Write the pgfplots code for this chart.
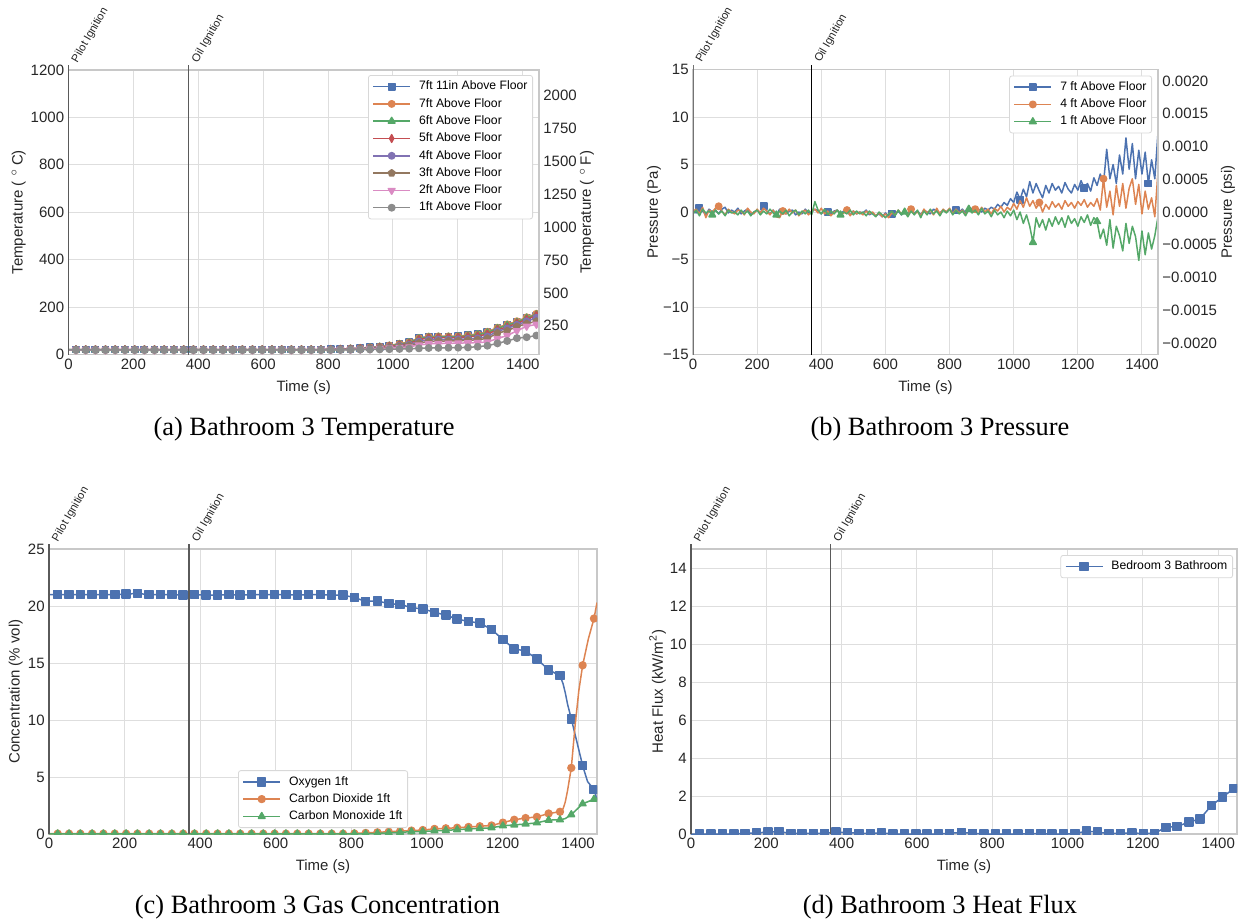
\documentclass[border=0pt]{standalone}
\usepackage{graphicx}
\usepackage{pgfplots}
\pgfplotsset{compat=1.18}
\usepackage{pgfplotstable}
\usetikzlibrary{plotmarks,calc}
\usepackage{fontspec}
\setmainfont{Liberation Sans}
\newfontfamily\capfont{Liberation Serif}

\definecolor{c0}{HTML}{4C72B0}
\definecolor{c1}{HTML}{DD8452}
\definecolor{c2}{HTML}{55A868}
\definecolor{c3}{HTML}{C44E52}
\definecolor{c4}{HTML}{8172B3}
\definecolor{c5}{HTML}{937860}
\definecolor{c6}{HTML}{DA8BC3}
\definecolor{c7}{HTML}{8C8C8C}
\definecolor{gridc}{HTML}{DEDEDE}
\definecolor{framec}{HTML}{C8C8C8}
\definecolor{legc}{HTML}{D8D8D8}
\definecolor{txt}{HTML}{262626}
\definecolor{annc}{HTML}{5A5A5A}

\pgfplotstableread{
t a b c d e f g h
0 21 21 20.5 20 20 19.5 19.5 19
23 21 21 20.5 20 20 19.5 19.5 19
53 21 21 20.5 20 20 19.5 19.5 19
83 21 21 20.5 20 20 19.5 19.5 19
114 21 21 20.5 20 20 19.5 19.5 19
144 21 21 20.5 20 20 19.5 19.5 19
174 21 21 20.5 20 20 19.5 19.5 19
204 21 21 20.5 20 20 19.5 19.5 19
234 21 21 20.5 20 20 19.5 19.5 19
265 21 21 20.5 20 20 19.5 19.5 19
295 21 21 20.5 20 20 19.5 19.5 19
325 21 21 20.5 20 20 19.5 19.5 19
355 21 21 20.5 20 20 19.5 19.5 19
385 21 21 20.5 20 20 19.5 19.5 19
416 21 21 20.5 20 20 19.5 19.5 19
446 21 21 20.5 20 20 19.5 19.5 19
476 21 21 20.5 20 20 19.5 19.5 19
506 21 21 20.5 20 20 19.5 19.5 19
536 21 21 20.5 20 20 19.5 19.5 19
567 21 21 20.5 20 20 19.5 19.5 19
597 21 21 20.5 20 20 19.5 19.5 19
627 21 21 20.5 20 20 19.5 19.5 19
657 21 21 20.5 20 20 19.5 19.5 19
687 21 21 20.5 20 20 19.5 19.5 19
718 21 21 20.5 20 20 19.5 19.5 19
748 21 21 20.5 20 20 19.5 19.5 19
778 21 21 20.5 20 20 19.5 19.5 19
808 22 22 21.5 21 21 20.5 20 19.5
838 23 23 22 22 21.5 21 20.5 19.5
869 25 25 24 23 22.5 22 21 20
899 27 27 26 25 24 23 22 20.5
929 30 30 29 27 26 25 23 21
959 33 33 32 30 28 27 25 21.5
989 38 38 36 34 31 29 27 22.5
1020 45 45 43 40 36 33 29 23.5
1050 52 52 50 46 41 37 32 24.5
1080 70 69 67 63 55 48 40 26
1110 76 75 73 70 62 55 45 27.5
1140 76 76 74 71 63 56 46 28
1171 76 76 74 71 63 57 47 28.5
1201 77 77 75 72 64 58 48 29
1231 82 81 79 75 66 60 49 30
1261 86 85 83 78 68 62 50 33
1291 95 96 92 86 76 68 53 37
1322 112 113 110 105 98 90 67 47
1352 125 127 124 116 110 100 80 57
1382 137 140 136 132 125 118 100 69
1412 153 157 154 148 140 130 119 73
1442 162 172 168 165 155 140 127 80
1450 165 176 171 168 158 143 129 82
}\tabT

\pgfplotstableread{
t p7 p4 p1
0 0.2 0.1 -0.2
10 -0.1 0.3 0.2
20 0.4 -0.2 -0.4
30 0.1 0.5 0.3
40 -0.3 -0.6 -0.1
50 0.3 0.2 0.1
60 0.0 0.0 -0.3
70 0.2 0.4 0.2
80 -0.2 0.6 -0.2
90 0.3 0.1 0.1
100 0.5 -0.3 -0.4
110 -0.1 0.3 0.2
120 0.2 0.0 -0.1
130 0.0 -0.2 0.0
140 0.4 0.2 -0.3
150 -0.2 0.1 0.2
160 0.1 -0.3 -0.2
170 0.3 0.4 0.1
180 -0.3 0.0 -0.4
190 0.0 -0.2 0.0
200 0.2 0.3 0.2
210 -0.1 -0.1 -0.3
220 0.6 0.4 0.1
230 0.1 0.1 -0.2
240 -0.2 -0.3 0.3
250 0.2 0.2 -0.1
260 -0.4 -0.5 -0.3
270 0.3 -0.6 0.1
280 0.0 0.1 -0.2
290 -0.2 -0.2 0.2
300 0.1 0.3 -0.4
310 0.2 -0.1 0.0
320 -0.3 0.2 0.2
330 0.0 -0.4 -0.3
340 -0.2 0.0 0.1
350 0.3 0.2 -0.2
360 -0.1 -0.3 0.2
370 0.0 0.1 -0.3
380 0.3 0.3 1.1
390 0.1 -0.1 0.2
400 -0.2 0.4 -0.2
410 0.2 -0.2 0.3
420 0.0 0.1 -0.3
430 -0.3 -0.4 0.1
440 0.1 0.0 -0.2
450 0.2 0.2 0.2
460 -0.2 -0.3 -0.3
470 0.1 -0.1 0.0
480 0.0 0.2 -0.2
490 -0.3 -0.4 0.2
500 0.1 0.1 -0.3
510 -0.2 -0.2 0.1
520 0.0 0.0 -0.2
530 -0.1 -0.3 0.0
540 0.2 0.1 -0.4
550 -0.3 -0.2 0.1
560 -0.1 0.0 -0.2
570 -0.4 -0.4 -0.5
580 -0.2 -0.1 0.0
590 -0.5 -0.5 -0.3
600 -0.1 -0.2 -0.6
610 -0.4 -0.6 -0.2
620 -0.2 -0.1 0.1
630 -0.3 -0.3 -0.4
640 0.1 0.2 0.2
650 -0.3 -0.2 -0.3
660 0.0 0.1 0.0
670 -0.2 -0.4 -0.5
680 0.2 0.3 0.1
690 -0.1 -0.2 -0.3
700 0.1 0.0 0.2
710 -0.3 -0.4 -0.6
720 0.2 0.3 0.1
730 0.0 -0.1 -0.3
740 -0.2 0.2 0.3
750 0.3 -0.3 -0.2
760 0.1 0.4 0.1
770 -0.1 -0.2 -0.4
780 0.2 0.3 0.2
790 0.0 0.0 -0.1
800 0.3 0.4 0.3
810 -0.1 -0.2 -0.3
820 0.2 0.3 0.2
830 0.0 -0.1 -0.2
840 0.3 0.2 0.1
850 -0.1 -0.3 -0.4
860 0.2 0.4 0.3
870 0.4 0.0 -0.1
880 0.1 0.3 0.2
890 0.3 -0.1 -0.3
900 0.0 0.5 0.4
910 0.4 0.0 -0.2
920 0.2 0.3 0.1
930 0.5 -0.2 -0.5
940 0.3 0.4 0.2
950 0.8 0.1 -0.3
960 0.5 0.6 0.0
970 1.0 0.0 -0.6
980 0.7 0.5 0.1
990 1.4 0.2 -0.4
1000 1.0 0.9 0.2
1010 2.1 0.3 -0.8
1020 1.3 1.2 0.0
1030 2.4 0.5 -1.2
1040 1.6 1.5 -0.3
1050 3.2 0.6 -1.5
1060 2.0 1.2 -3.2
1070 3.0 0.4 -0.6
1080 2.2 1.0 -1.6
1090 1.5 0.0 -0.8
1100 2.8 0.8 -1.9
1110 2.0 0.3 -0.7
1120 3.0 1.1 -1.5
1130 2.3 0.5 -0.5
1140 2.7 0.9 -1.3
1150 2.0 0.3 -0.6
1160 3.1 1.2 -1.6
1170 2.4 0.6 -0.4
1180 2.0 1.0 -1.2
1190 2.9 0.4 -0.7
1200 2.3 1.1 -1.5
1210 3.3 0.7 -0.5
1220 2.5 1.3 -1.1
1230 3.0 0.5 -0.3
1240 2.2 1.0 -1.4
1250 3.6 0.6 -0.6
1260 2.8 1.4 -1.0
1270 4.0 0.2 -2.8
1280 3.0 3.5 -1.8
1290 6.6 0.5 -3.5
1300 3.5 2.2 -0.8
1310 5.0 -0.3 -3.8
1320 3.0 2.8 -1.5
1330 6.0 0.6 -2.5
1340 4.0 3.0 -4.1
1350 7.8 0.4 -1.2
1360 4.5 2.5 -3.3
1370 7.2 3.5 -1.5
1380 3.5 0.8 -2.6
1390 6.5 2.9 -5.1
1400 4.0 -0.2 -2.0
1410 6.3 2.2 -4.5
1420 3.0 0.3 -2.2
1430 5.5 1.5 -3.9
1440 3.5 -0.5 -2.5
1450 8.4 4.3 -0.5
}\tabP

\pgfplotstableread{
t o2 co2 co
23 21.0 0.03 0.02
53 21.0 0.03 0.02
83 21.0 0.03 0.02
114 21.0 0.03 0.02
144 21.0 0.03 0.02
174 21.0 0.03 0.02
204 21.05 0.03 0.02
234 21.1 0.03 0.02
265 21.0 0.03 0.02
295 21.0 0.03 0.02
325 21.0 0.03 0.02
355 20.95 0.03 0.02
385 21.0 0.03 0.02
416 20.95 0.03 0.02
446 20.95 0.03 0.02
476 21.0 0.03 0.02
506 20.95 0.03 0.02
536 21.0 0.03 0.02
567 21.0 0.03 0.02
597 21.0 0.03 0.02
627 21.0 0.03 0.02
657 20.95 0.03 0.02
687 21.0 0.03 0.02
718 21.0 0.03 0.02
748 20.95 0.03 0.02
778 20.95 0.03 0.02
808 20.75 0.05 0.02
838 20.4 0.1 0.02
869 20.45 0.15 0.05
899 20.2 0.2 0.1
929 20.15 0.25 0.15
959 19.85 0.3 0.2
989 19.75 0.35 0.22
1020 19.45 0.45 0.28
1050 19.2 0.5 0.32
1080 18.85 0.55 0.38
1110 18.65 0.62 0.45
1140 18.5 0.68 0.48
1171 17.95 0.75 0.55
1201 17.05 1.0 0.72
1231 16.25 1.25 0.8
1261 16.05 1.4 0.88
1291 15.35 1.5 0.98
1322 14.4 1.8 1.22
1352 13.9 1.95 1.25
1382 10.1 5.8 1.7
1412 6.0 14.8 2.65
1442 3.9 18.9 3.05
}\tabC

\pgfplotstableread{
t hf
0 0.0
23 0.0
53 0.0
83 0.0
114 0.0
144 0.03
174 0.06
204 0.1
234 0.12
265 0.04
295 0.04
325 0.02
355 0.04
385 0.1
416 0.08
446 0.04
476 0.04
506 0.06
536 0.0
567 0.0
597 0.0
627 0.0
657 0.0
687 0.04
718 0.08
748 0.04
778 0.0
808 0.0
838 0.0
869 0.0
899 0.02
929 0.02
959 0.0
989 0.0
1020 0.02
1050 0.15
1080 0.1
1110 0.02
1140 0.04
1171 0.06
1201 0.02
1231 0.04
1261 0.35
1291 0.4
1322 0.62
1352 0.8
1382 1.5
1412 1.95
1442 2.4
1450 2.5
}\tabH

\tikzset{annnode/.style={anchor=south west, inner sep=0pt, xshift=0.6pt,
  font=\fontsize{5.6}{6}\selectfont, text=txt}}
\newcommand{\annt}[1]{\rotatebox{60}{#1}}
% #1 axis name, #2 fraction of width, #3 colour, #4 width, #5 text
\newcommand{\annot}[5]{%
  \draw[#3, line width=#4] ($(#1.south west)!#2!(#1.south east)$) --
    ($(#1.north west)!#2!(#1.north east)$) -- ++(0pt,2.5pt)
    node[annnode] {\annt{#5}};}

\pgfplotsset{
  sbbase/.style={
    scale only axis, anchor=south west,
    xmin=0, xmax=1450,
    axis line style={draw=framec, line width=0.65pt},
    major tick length=0pt, tick style={draw=none},
    tick label style={font=\fontsize{7.5}{9}\selectfont, text=txt},
    label style={font=\fontsize{7.5}{9}\selectfont, text=txt},
    xticklabel style={inner sep=2pt},
    yticklabel style={inner sep=2pt},
    /pgf/number format/assume math mode=true,
    /pgf/number format/1000 sep={},
    scaled ticks=false,
    clip marker paths=true,
  },
  sb/.style={sbbase,
    grid=major, major grid style={draw=gridc, line width=0.5pt},
    xtick={0,200,...,1400}, xlabel={Time (s)},
    legend cell align=left,
    legend style={font=\fontsize{6.1}{7}\selectfont, draw=legc, line width=0.4pt,
      fill=white, rounded corners=1.2pt, inner xsep=2pt, inner ysep=1.8pt,
      row sep=1.05pt,
      nodes={inner xsep=0.6pt, inner ysep=0.8pt, text height=4.6pt, text depth=1.4pt},
      /tikz/every odd column/.append style={column sep=3.5pt}},
    legend image code/.code={\draw[mark repeat=2,mark phase=2]
      plot coordinates {(0pt,0pt) (9.25pt,0pt) (18.5pt,0pt)};},
    every axis plot/.append style={line width=0.75pt, line join=round},
  },
  sbright/.style={sbbase, axis x line=none, axis y line*=right},
}

\newcommand{\ser}[5]{%
  \addplot[#3, no marks, forget plot] table[x=t,y=#2]{#1};
  \addplot[#3, only marks, #4, restrict x to domain=10:1445, forget plot] table[x=t,y=#2]{#1};
  \addlegendimage{#3, #4}
  \addlegendentry{#5}
}

\begin{document}
\begin{tikzpicture}
\useasboundingbox (0pt,0pt) rectangle (620.5pt,-460pt);

% (a)
\begin{axis}[sb, name=axa, at={(34.25pt,-177.25pt)}, width=235.25pt, height=142.25pt,
  ymin=0, ymax=1200, ytick={0,200,...,1200},
  ylabel={Temperature ( $^\circ$\,C)}, ylabel shift=-3pt,
  legend style={at={(1,1)}, anchor=north east, xshift=-3pt, yshift=-2.5pt}]
\ser{\tabT}{a}{c0}{mark=square*, mark size=1.6pt}{7ft 11in Above Floor}
\ser{\tabT}{b}{c1}{mark=*, mark size=1.6pt}{7ft Above Floor}
\ser{\tabT}{c}{c2}{mark=triangle*, mark size=1.9pt}{6ft Above Floor}
\ser{\tabT}{d}{c3}{mark=diamond*, mark size=1.9pt, mark options={xscale=0.7}}{5ft Above Floor}
\ser{\tabT}{e}{c4}{mark=*, mark size=1.6pt}{4ft Above Floor}
\ser{\tabT}{f}{c5}{mark=pentagon*, mark size=1.7pt}{3ft Above Floor}
\ser{\tabT}{g}{c6}{mark=triangle*, mark size=1.9pt, mark options={rotate=180}}{2ft Above Floor}
\ser{\tabT}{h}{c7}{mark=*, mark size=1.6pt}{1ft Above Floor}
\end{axis}
\begin{axis}[sbright, at={(34.25pt,-177.25pt)}, width=235.25pt, height=142.25pt,
  ymin=32, ymax=2192, ytick={250,500,...,2000},
  ylabel={Temperature ( $^\circ$\,F)}, ylabel shift=-4pt]
\addplot[draw=none] coordinates {(0,32)};
\end{axis}
\annot{axa}{0}{annc}{0.75pt}{Pilot Ignition}
\annot{axa}{0.25517}{annc}{0.75pt}{Oil Ignition}

% (b)
\begin{axis}[sb, name=axb, at={(346.5pt,-177.25pt)}, width=232.5pt, height=142.5pt,
  ymin=-15, ymax=15, ytick={-15,-10,-5,0,5,10,15},
  yticklabels={−15,−10,−5,0,5,10,15},
  ylabel={Pressure (Pa)}, ylabel shift=-4.5pt,
  legend style={at={(1,1)}, anchor=north east, xshift=-3pt, yshift=-3pt}]
\addplot[c0, mark=square*, mark size=1.6pt, mark repeat=20, mark phase=3] table[x=t,y=p7]{\tabP};
\addlegendentry{7 ft Above Floor}
\addplot[c1, mark=*, mark size=1.6pt, mark repeat=20, mark phase=9] table[x=t,y=p4]{\tabP};
\addlegendentry{4 ft Above Floor}
\addplot[c2, mark=triangle*, mark size=1.9pt, mark repeat=20, mark phase=7] table[x=t,y=p1]{\tabP};
\addlegendentry{1 ft Above Floor}
\end{axis}
\begin{axis}[sbright, at={(346.5pt,-177.25pt)}, width=232.5pt, height=142.5pt,
  ymin=-0.00217557, ymax=0.00217557,
  ytick={-0.002,-0.0015,-0.001,-0.0005,0,0.0005,0.001,0.0015,0.002},
  yticklabels={−0.0020,−0.0015,−0.0010,−0.0005,0.0000,0.0005,0.0010,0.0015,0.0020},
  ylabel={Pressure (psi)}, ylabel shift=-3.5pt]
\addplot[draw=none] coordinates {(0,0)};
\end{axis}
\annot{axb}{0}{black!55}{0.5pt}{Pilot Ignition}
\annot{axb}{0.25517}{black}{0.5pt}{Oil Ignition}

% (c)
\begin{axis}[sb, name=axc, at={(24.5pt,-417pt)}, width=274pt, height=142.5pt,
  ymin=0, ymax=25, ytick={0,5,...,25},
  ylabel={Concentration (\% vol)}, ylabel shift=-3pt,
  legend style={at={(0.345,0)}, anchor=south west, yshift=3pt}]
\addplot[c0, no marks, forget plot] coordinates {(0,21.0) (23,21.0) (53,21.0) (83,21.0) (114,21.0) (144,21.0) (174,21.0) (204,21.05) (234,21.1) (265,21.0) (295,21.0) (325,21.0) (355,20.95) (385,21.0) (416,20.95) (446,20.95) (476,21.0) (506,20.95) (536,21.0) (567,21.0) (597,21.0) (627,21.0) (657,20.95) (687,21.0) (718,21.0) (748,20.95) (778,20.95) (808,20.75) (838,20.4) (869,20.45) (899,20.2) (929,20.15) (959,19.85) (989,19.75) (1020,19.45) (1050,19.2) (1080,18.85) (1110,18.65) (1140,18.5) (1171,17.95) (1201,17.05) (1231,16.25) (1261,16.05) (1291,15.35) (1322,14.4) (1352,13.9) (1360,13.2) (1366,12.4) (1372,11.4) (1382,10.1) (1412,6.0) (1425,4.6) (1442,3.9) (1450,3.0)};
\addplot[c0, only marks, mark=square*, mark size=2pt, forget plot] table[x=t,y=o2]{\tabC};
\addlegendimage{c0, mark=square*, mark size=2pt}
\addlegendentry{Oxygen 1ft}
\addplot[c1, no marks, forget plot] coordinates {(0,0.03) (778,0.03) (808,0.05) (838,0.1) (869,0.15) (899,0.2) (929,0.25) (959,0.3) (989,0.35) (1020,0.45) (1050,0.5) (1080,0.55) (1110,0.62) (1140,0.68) (1171,0.75) (1201,1.0) (1231,1.25) (1261,1.4) (1291,1.5) (1322,1.8) (1352,1.95) (1360,2.2) (1366,2.8) (1372,3.8) (1382,5.8) (1392,9.5) (1402,12.6) (1412,14.8) (1427,17.1) (1442,18.9) (1450,20.3)};
\addplot[c1, only marks, mark=*, mark size=1.7pt, forget plot] table[x=t,y=co2]{\tabC};
\addlegendimage{c1, mark=*, mark size=1.7pt}
\addlegendentry{Carbon Dioxide 1ft}
\addplot[c2, no marks, forget plot] coordinates {(0,0.02) (838,0.02) (869,0.05) (899,0.1) (929,0.15) (959,0.2) (989,0.22) (1020,0.28) (1050,0.32) (1080,0.38) (1110,0.45) (1140,0.48) (1171,0.55) (1201,0.72) (1231,0.8) (1261,0.88) (1291,0.98) (1322,1.22) (1352,1.25) (1366,1.35) (1382,1.7) (1412,2.65) (1442,3.05) (1450,3.15)};
\addplot[c2, only marks, mark=triangle*, mark size=1.9pt, forget plot] table[x=t,y=co]{\tabC};
\addlegendimage{c2, mark=triangle*, mark size=1.9pt}
\addlegendentry{Carbon Monoxide 1ft}
\end{axis}
\annot{axc}{0}{annc}{0.75pt}{Pilot Ignition}
\annot{axc}{0.25517}{annc}{0.75pt}{Oil Ignition}

% (d)
\begin{axis}[sb, name=axd, at={(345.5pt,-417pt)}, width=273pt, height=142.5pt,
  ymin=0, ymax=15, ytick={0,2,...,14},
  ylabel={Heat Flux (kW/m\textsuperscript{2})}, ylabel shift=-3.5pt,
  legend style={at={(1,1)}, anchor=north east, xshift=-2pt, yshift=-3pt}]
\ser{\tabH}{hf}{c0}{mark=square*, mark size=2pt}{Bedroom 3 Bathroom}
\end{axis}
\annot{axd}{0}{annc}{0.75pt}{Pilot Ignition}
\annot{axd}{0.25517}{annc}{0.75pt}{Oil Ignition}

\node[anchor=base, font=\capfont\fontsize{13.2}{15}\selectfont] at (152pt,-217.5pt) {(a) Bathroom 3 Temperature};
\node[anchor=base, font=\capfont\fontsize{13.2}{15}\selectfont] at (470pt,-217.5pt) {(b) Bathroom 3 Pressure};
\node[anchor=base, font=\capfont\fontsize{13.2}{15}\selectfont] at (158.75pt,-456.75pt) {(c) Bathroom 3 Gas Concentration};
\node[anchor=base, font=\capfont\fontsize{13.2}{15}\selectfont] at (470pt,-456.75pt) {(d) Bathroom 3 Heat Flux};
\end{tikzpicture}
\end{document}
